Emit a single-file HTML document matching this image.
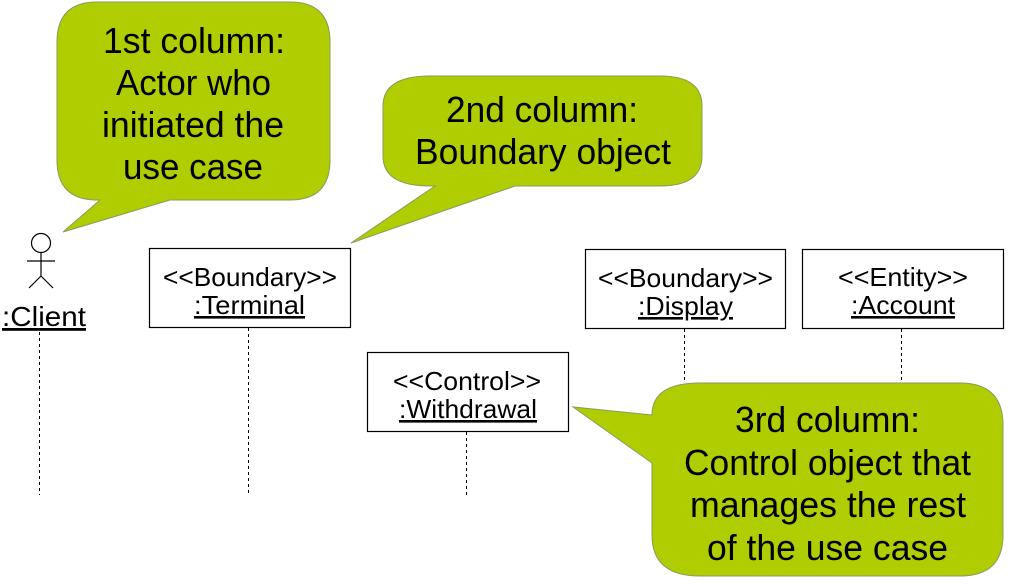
<!DOCTYPE html>
<html><head><meta charset="utf-8"><style>
html,body{margin:0;padding:0;background:#fff;}
svg{display:block;}
text{font-family:"Liberation Sans",sans-serif;fill:#000;}
</style></head><body>
<svg width="1010" height="585" viewBox="0 0 1010 585" xmlns="http://www.w3.org/2000/svg">
<g fill="#afcd00" stroke="#8a9a60" stroke-width="1">
<path d="M97,2 H290 Q330,2 330,42 V160 Q330,200 290,200 H170 L63,232 L100,200 H97 Q57,200 57,160 V42 Q57,2 97,2 Z"/>
<path d="M430,76 H660 Q702,76 702,106 V156 Q702,186 660,186 H515 L351,243 L435,186 H430 Q383,186 383,156 V106 Q383,76 430,76 Z"/>
<path d="M700,383 H960 Q1003,383 1003,425 V535 Q1003,576 960,576 H700 Q652,576 652,535 V463 L573,407 L652,415 Q652,383 700,383 Z"/>
</g>
<g font-size="36" lengthAdjust="spacingAndGlyphs">
<text x="103" y="53" textLength="182" lengthAdjust="spacingAndGlyphs">1st column:</text>
<text x="116" y="95" textLength="155" lengthAdjust="spacingAndGlyphs">Actor who</text>
<text x="102" y="137" textLength="182" lengthAdjust="spacingAndGlyphs">initiated the</text>
<text x="123" y="179" textLength="140" lengthAdjust="spacingAndGlyphs">use case</text>
<text x="446" y="122" textLength="192" lengthAdjust="spacingAndGlyphs">2nd column:</text>
<text x="415" y="164" textLength="256" lengthAdjust="spacingAndGlyphs">Boundary object</text>
<text x="735" y="432" textLength="185" lengthAdjust="spacingAndGlyphs">3rd column:</text>
<text x="684" y="475" textLength="287" lengthAdjust="spacingAndGlyphs">Control object that</text>
<text x="690" y="517" textLength="276" lengthAdjust="spacingAndGlyphs">manages the rest</text>
<text x="707" y="560" textLength="241" lengthAdjust="spacingAndGlyphs">of the use case</text>
</g>
<g stroke="#000" stroke-width="1" stroke-dasharray="3,3">
<line x1="39.5" y1="332" x2="39.5" y2="495"/>
<line x1="248.5" y1="328" x2="248.5" y2="495"/>
<line x1="466.5" y1="432" x2="466.5" y2="495"/>
<line x1="684.5" y1="329" x2="684.5" y2="383"/>
<line x1="901.5" y1="329" x2="901.5" y2="383"/>
</g>
<g stroke="#000" stroke-width="1.2" fill="none">
<circle cx="41" cy="243" r="9.5"/>
<line x1="41" y1="253" x2="41" y2="276"/>
<line x1="27" y1="261" x2="55" y2="261"/>
<line x1="41" y1="276" x2="29" y2="288"/>
<line x1="41" y1="276" x2="53" y2="288"/>
</g>
<text x="2" y="326" font-size="28" textLength="84" lengthAdjust="spacingAndGlyphs" text-decoration="underline">:Client</text>
<g fill="#fff" stroke="#000" stroke-width="1.2">
<rect x="149.5" y="248.5" width="201" height="79"/>
<rect x="585.5" y="249.5" width="200" height="79"/>
<rect x="802.5" y="249.5" width="201" height="79"/>
<rect x="367.5" y="352.5" width="201" height="79"/>
</g>
<g font-size="26">
<text x="163" y="286" textLength="174" lengthAdjust="spacingAndGlyphs">&lt;&lt;Boundary&gt;&gt;</text>
<text x="194" y="314" textLength="111" lengthAdjust="spacingAndGlyphs" text-decoration="underline">:Terminal</text>
<text x="598" y="287" textLength="175" lengthAdjust="spacingAndGlyphs">&lt;&lt;Boundary&gt;&gt;</text>
<text x="638" y="315" textLength="95" lengthAdjust="spacingAndGlyphs" text-decoration="underline">:Display</text>
<text x="838" y="286" textLength="130" lengthAdjust="spacingAndGlyphs">&lt;&lt;Entity&gt;&gt;</text>
<text x="851" y="314" textLength="104" lengthAdjust="spacingAndGlyphs" text-decoration="underline">:Account</text>
<text x="393" y="390" textLength="148" lengthAdjust="spacingAndGlyphs">&lt;&lt;Control&gt;&gt;</text>
<text x="399" y="418" textLength="138" lengthAdjust="spacingAndGlyphs" text-decoration="underline">:Withdrawal</text>
</g>
</svg>
</body></html>
